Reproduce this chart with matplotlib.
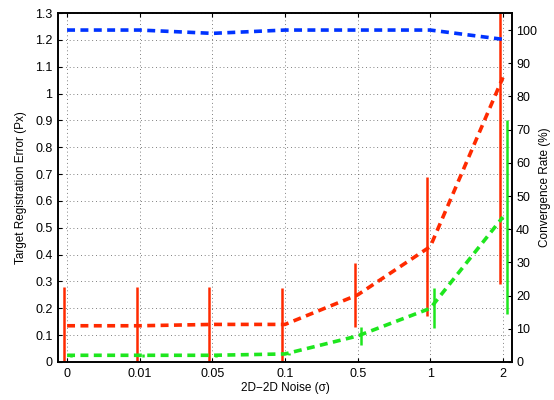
import numpy as np
import matplotlib.pyplot as plt

plt.rcParams['font.family'] = ['Liberation Sans', 'DejaVu Sans']

noise_labels = ['0', '0.01', '0.05', '0.1', '0.5', '1', '2']
tre_mean = [0.135, 0.135, 0.14, 0.14, 0.25, 0.43, 1.06]
tre_err = [0.145, 0.145, 0.14, 0.135, 0.12, 0.26, 0.77]
tre2_mean = [0.025, 0.025, 0.025, 0.03, 0.097, 0.2, 0.54]
tre2_err = [0.005, 0.005, 0.005, 0.005, 0.035, 0.075, 0.36]
conv_rate = [100, 100, 99, 100, 100, 100, 97.2]

x = np.arange(1, len(noise_labels) + 1)
red = '#ff2a00'
green = '#1ee61e'
blue = '#0033ff'

fig = plt.figure(figsize=(5.54, 4.0), dpi=100)
ax = fig.add_axes([0.1047, 0.095, 0.8195, 0.8725])

# error bars first, then dashed means on top
ax.errorbar(x - 0.04, tre_mean, yerr=tre_err, fmt='none', ecolor=red, elinewidth=1.8, capsize=0)
ax.errorbar(x + 0.05, tre2_mean, yerr=tre2_err, fmt='none', ecolor=green, elinewidth=1.8, capsize=0)
ax.plot(x, tre_mean, color=red, lw=2.6, dashes=(2.2, 1.5))
ax.plot(x, tre2_mean, color=green, lw=2.6, dashes=(2.2, 1.5))

ax.set_xlim(0.875, 7.125)
ax.set_ylim(0, 1.3)
ax.set_xticks(x)
ax.set_xticklabels(noise_labels)
yt = np.arange(0, 1.31, 0.1)
ax.set_yticks(yt)
ax.set_yticklabels(['%g' % round(v, 1) for v in yt])
ax.grid(True, color='#555555', linestyle=(0, (1, 3.5)), linewidth=0.6)
ax.tick_params(direction='in', top=True, right=True, labelsize=9, length=3, pad=4)
ax.set_xlabel('2D\u22122D Noise (\u03c3)', fontsize=8.5, labelpad=2)
ax.set_ylabel('Target Registration Error (Px)', fontsize=8.5, labelpad=6)
for s in ax.spines.values():
    s.set_linewidth(1.2)

ax2 = ax.twinx()
ax2.plot(x, conv_rate, color=blue, lw=2.6, dashes=(2.2, 1.5))
ax2.set_ylim(0, 100 * 1.3 / (332 / 268.5))
ax2.set_yticks(np.arange(0, 101, 10))
ax2.tick_params(direction='in', labelsize=9, length=3, pad=3)
ax2.set_ylabel('Convergence Rate (%)', fontsize=8.5, labelpad=1)
for s in ax2.spines.values():
    s.set_linewidth(1.2)

fig.savefig('out.png', dpi=100)
